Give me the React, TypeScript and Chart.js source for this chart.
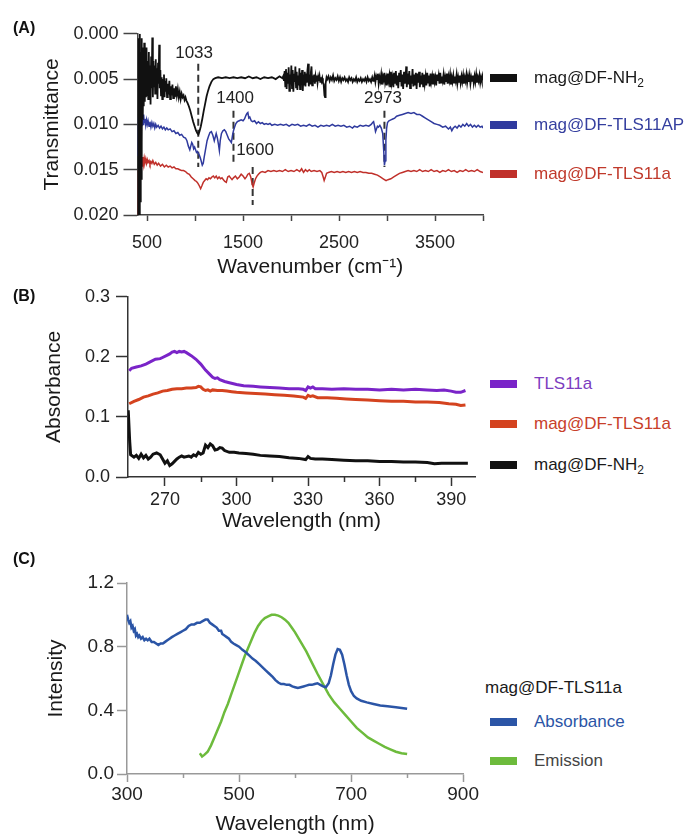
import React, { useEffect, useRef } from "react";
import { Chart, registerables } from "chart.js";
Chart.register(...registerables);

const FONT = "'Liberation Sans', Arial, Helvetica, sans-serif";

// ---------- Panel A: FTIR ----------
const ftirXTicks = [500, 1000, 1500, 2000, 2500, 3000, 3500, 4000];
const ftirXLabeled = [500, 1500, 2500, 3500];
const ftirYTicks = [0, 0.005, 0.01, 0.015, 0.02];

const ftirNH2: [number, number][] = [
  [405, 0.02], [410, 0.0005], [414, 0.0195], [418, 0.001], [422, 0.02], [426, 0.0], [430, 0.0185], [434, 0.002], [438, 0.016], [442, 0.0005],
  [446, 0.012], [450, 0.0015], [455, 0.0095], [460, 0.003], [465, 0.008], [470, 0.001], [476, 0.0075], [482, 0.0025], [488, 0.007], [494, 0.0015],
  [500, 0.0068], [506, 0.003], [512, 0.0072], [518, 0.002], [524, 0.0065], [530, 0.0035], [536, 0.0078], [542, 0.0025], [548, 0.006], [554, 0.0004],
  [560, 0.007], [566, 0.003], [572, 0.0058], [578, 0.0035], [584, 0.0066], [590, 0.0028], [596, 0.006], [602, 0.0038], [608, 0.0072], [614, 0.0032],
  [620, 0.0055], [626, 0.0012], [632, 0.006], [638, 0.004], [645, 0.0068], [652, 0.0048], [658, 0.0072], [664, 0.005], [670, 0.0066], [676, 0.0045],
  [682, 0.007], [688, 0.0052], [694, 0.0064], [700, 0.0049], [708, 0.007], [716, 0.0055], [724, 0.0067], [732, 0.0052], [740, 0.0072], [748, 0.0058],
  [756, 0.0068], [764, 0.0056], [772, 0.0071], [780, 0.006], [790, 0.007], [800, 0.0058], [810, 0.0068], [820, 0.0061], [830, 0.007], [840, 0.0064],
  [850, 0.0072], [860, 0.0066], [870, 0.007], [880, 0.0068], [890, 0.0073], [900, 0.007], [910, 0.0074], [920, 0.0076], [935, 0.008], [950, 0.0085],
  [965, 0.0091], [980, 0.0097], [995, 0.0102], [1010, 0.0107], [1025, 0.011], [1035, 0.0111], [1045, 0.0108], [1060, 0.0102], [1075, 0.0094], [1090, 0.0085],
  [1105, 0.0077], [1120, 0.0069], [1135, 0.0063], [1150, 0.0058], [1170, 0.0053], [1190, 0.005], [1210, 0.0049], [1240, 0.0048], [1280, 0.0049], [1320, 0.0048],
  [1360, 0.0049], [1400, 0.0048], [1440, 0.0049], [1480, 0.0048], [1520, 0.0049], [1560, 0.0047], [1600, 0.0049], [1640, 0.0048], [1680, 0.005], [1720, 0.0048],
  [1760, 0.0049], [1800, 0.0048], [1840, 0.005], [1880, 0.0047], [1910, 0.0049],
  [1918, 0.0047], [1926, 0.0052], [1933, 0.0041], [1940, 0.0058], [1947, 0.0039], [1954, 0.0061], [1961, 0.0043], [1968, 0.0055], [1975, 0.0037], [1982, 0.0063],
  [1989, 0.0045], [1996, 0.0056], [2003, 0.0035], [2010, 0.006], [2017, 0.004], [2024, 0.0064], [2031, 0.0044], [2038, 0.0053], [2045, 0.0036], [2052, 0.0059],
  [2059, 0.0042], [2066, 0.0062], [2073, 0.0046], [2080, 0.0057], [2087, 0.0038], [2094, 0.0061], [2101, 0.0043], [2108, 0.0055], [2115, 0.004], [2122, 0.0063],
  [2129, 0.0045], [2136, 0.0056], [2143, 0.0042], [2150, 0.0058], [2157, 0.0044], [2164, 0.0054], [2171, 0.004], [2178, 0.0033], [2185, 0.0058], [2192, 0.0045],
  [2199, 0.0055], [2206, 0.0043], [2213, 0.0036], [2220, 0.0057], [2227, 0.0046], [2234, 0.0053], [2241, 0.0045], [2248, 0.0055], [2255, 0.0047], [2262, 0.0052],
  [2269, 0.0046], [2276, 0.0054], [2283, 0.0048], [2290, 0.0052], [2297, 0.0047], [2304, 0.0053], [2311, 0.0048], [2318, 0.0052], [2325, 0.0049], [2332, 0.0054],
  [2340, 0.0056], [2348, 0.0068], [2354, 0.007], [2360, 0.0055], [2370, 0.0048],
  [2378, 0.005], [2390, 0.0047], [2402, 0.0052], [2414, 0.0048], [2426, 0.0051], [2438, 0.0046], [2450, 0.0052], [2462, 0.0049], [2474, 0.0051], [2486, 0.0047],
  [2498, 0.0052], [2510, 0.0048], [2522, 0.0053], [2534, 0.0049], [2546, 0.0051], [2558, 0.0048], [2570, 0.0052], [2582, 0.005], [2594, 0.0053], [2606, 0.0048],
  [2618, 0.0051], [2630, 0.0049], [2642, 0.0053], [2654, 0.005], [2666, 0.0052], [2678, 0.0048], [2690, 0.0053], [2702, 0.005], [2714, 0.0052], [2726, 0.0049],
  [2738, 0.0053], [2750, 0.005], [2762, 0.0052], [2774, 0.0049], [2786, 0.0053], [2798, 0.0048], [2810, 0.0052], [2822, 0.005], [2834, 0.0053], [2846, 0.0048],
  [2856, 0.0052], [2862, 0.0051], [2871, 0.0046], [2879, 0.0053], [2888, 0.0047], [2896, 0.005], [2905, 0.0044], [2913, 0.0055], [2922, 0.0048], [2930, 0.0052],
  [2939, 0.0045], [2947, 0.0056], [2956, 0.0047], [2964, 0.0051], [2973, 0.0043], [2981, 0.0054], [2990, 0.0049], [2998, 0.0057], [3007, 0.0044], [3015, 0.0052],
  [3024, 0.0046], [3032, 0.0058], [3041, 0.0042], [3049, 0.0054], [3058, 0.0048], [3066, 0.0059], [3075, 0.0043], [3083, 0.0055], [3092, 0.0041], [3100, 0.0057],
  [3109, 0.0046], [3117, 0.006], [3126, 0.0043], [3134, 0.0053], [3143, 0.004], [3151, 0.0058], [3160, 0.0045], [3168, 0.0061], [3177, 0.0042], [3185, 0.0055],
  [3194, 0.0047], [3200, 0.0036], [3206, 0.0059], [3215, 0.0044], [3223, 0.0056], [3232, 0.0041], [3240, 0.006], [3249, 0.0046], [3257, 0.0055], [3266, 0.0039],
  [3274, 0.0058], [3283, 0.0045], [3291, 0.0057], [3300, 0.0043], [3308, 0.0061], [3317, 0.0044], [3325, 0.0054], [3334, 0.0042], [3342, 0.0059], [3351, 0.0046],
  [3359, 0.0056], [3368, 0.0043], [3376, 0.0058], [3385, 0.0045], [3393, 0.0055], [3402, 0.0047], [3410, 0.0057], [3419, 0.0043], [3427, 0.0054], [3436, 0.0046],
  [3444, 0.0058], [3453, 0.0044], [3461, 0.0053], [3470, 0.0047], [3478, 0.0056], [3487, 0.0044], [3495, 0.0053], [3504, 0.0048], [3512, 0.0057], [3521, 0.0045],
  [3529, 0.0052], [3538, 0.0046], [3546, 0.0055], [3555, 0.0043], [3563, 0.0054], [3572, 0.0047], [3580, 0.0052], [3589, 0.0045], [3597, 0.0056], [3606, 0.0048],
  [3614, 0.0053], [3623, 0.0044], [3631, 0.0055], [3640, 0.0047], [3648, 0.0052], [3657, 0.0045], [3665, 0.0056], [3674, 0.0048], [3682, 0.0053], [3691, 0.0046],
  [3699, 0.0054], [3708, 0.0047], [3716, 0.0052], [3725, 0.0045], [3733, 0.0055], [3742, 0.0048], [3750, 0.0053], [3759, 0.0046], [3767, 0.0054], [3776, 0.0047],
  [3784, 0.0053], [3793, 0.0046], [3801, 0.0055], [3810, 0.0048], [3818, 0.0052], [3827, 0.0045], [3835, 0.0054], [3844, 0.0047], [3852, 0.0053], [3861, 0.0046],
  [3869, 0.0055], [3878, 0.0048], [3886, 0.0052], [3895, 0.0046], [3903, 0.0054], [3912, 0.0047], [3920, 0.0053], [3929, 0.0045], [3937, 0.0054], [3946, 0.0048],
  [3954, 0.0052], [3963, 0.0046], [3971, 0.0054], [3980, 0.0048], [3988, 0.0052], [3996, 0.0047], [4000, 0.005],
];

const ftirTLS11AP: [number, number][] = [
  [405, 0.0135], [410, 0.0092], [415, 0.0125], [420, 0.0083], [425, 0.011], [430, 0.0095], [435, 0.0108], [440, 0.0088], [446, 0.0102], [452, 0.0092],
  [458, 0.01], [464, 0.0089], [470, 0.0098], [478, 0.0094], [486, 0.0101], [494, 0.0095], [502, 0.01], [510, 0.0096], [520, 0.0102], [530, 0.0097],
  [540, 0.0103], [550, 0.0098], [560, 0.0102], [570, 0.0099], [580, 0.0104], [590, 0.01], [600, 0.0103], [615, 0.0101], [630, 0.0104], [645, 0.0102],
  [660, 0.0105], [675, 0.0103], [690, 0.0106], [705, 0.0104], [720, 0.0106], [740, 0.0105], [760, 0.0108], [780, 0.0107], [800, 0.011], [820, 0.0109],
  [840, 0.0112], [860, 0.0111], [880, 0.0114], [900, 0.0115], [915, 0.0118], [930, 0.0124], [945, 0.0128], [955, 0.0124], [965, 0.012], [975, 0.0122],
  [985, 0.0127], [995, 0.0125], [1005, 0.0128], [1015, 0.0131], [1025, 0.013], [1035, 0.0132], [1045, 0.0134], [1055, 0.0137], [1065, 0.0141], [1075, 0.0145],
  [1085, 0.0143], [1095, 0.0136], [1105, 0.013], [1115, 0.0124], [1125, 0.0118], [1140, 0.0113], [1155, 0.0109], [1170, 0.0108], [1185, 0.0112], [1200, 0.0118],
  [1210, 0.0114], [1220, 0.011], [1232, 0.0115], [1245, 0.0123], [1253, 0.0129], [1262, 0.0118], [1275, 0.011], [1290, 0.0107], [1305, 0.0106], [1320, 0.0108],
  [1335, 0.0112], [1350, 0.0116], [1365, 0.0118], [1378, 0.012], [1390, 0.0112], [1400, 0.0107], [1412, 0.0103], [1425, 0.0099], [1440, 0.0097], [1460, 0.0096],
  [1480, 0.0095], [1500, 0.0096], [1515, 0.0094], [1530, 0.009], [1540, 0.0088], [1550, 0.0087], [1560, 0.0093], [1570, 0.0092], [1585, 0.0096], [1600, 0.0097],
  [1620, 0.0096], [1640, 0.0099], [1660, 0.0097], [1680, 0.0099], [1700, 0.0098], [1720, 0.01], [1740, 0.0099], [1760, 0.01], [1780, 0.0099], [1800, 0.0101],
  [1830, 0.01], [1860, 0.0101], [1890, 0.01], [1920, 0.0101], [1950, 0.01], [1980, 0.0102], [2010, 0.01], [2040, 0.0101], [2070, 0.01], [2100, 0.0102],
  [2130, 0.0101], [2160, 0.0102], [2190, 0.01], [2220, 0.0102], [2250, 0.0101], [2280, 0.0103], [2310, 0.0101], [2340, 0.0102], [2370, 0.0101], [2400, 0.0102],
  [2430, 0.01], [2460, 0.0102], [2490, 0.0101], [2520, 0.0102], [2550, 0.0101], [2580, 0.0103], [2610, 0.0102], [2640, 0.0104], [2660, 0.0102], [2690, 0.0103],
  [2720, 0.0101], [2750, 0.0102], [2780, 0.0101], [2810, 0.0102], [2835, 0.01], [2850, 0.0098], [2860, 0.0097], [2870, 0.0102], [2880, 0.0108], [2890, 0.0105],
  [2900, 0.0102], [2910, 0.0103], [2925, 0.0101], [2940, 0.0104], [2955, 0.011], [2965, 0.0128], [2973, 0.0145], [2980, 0.014], [2988, 0.0118], [2996, 0.0104],
  [3005, 0.0098], [3020, 0.0096], [3040, 0.0095], [3060, 0.0094], [3080, 0.0093], [3100, 0.0091], [3130, 0.009], [3160, 0.0089], [3190, 0.0088], [3220, 0.0087],
  [3250, 0.0088], [3280, 0.0087], [3310, 0.0089], [3340, 0.0089], [3370, 0.0091], [3400, 0.0093], [3430, 0.0095], [3460, 0.0097], [3490, 0.0099], [3520, 0.01],
  [3550, 0.0101], [3580, 0.0103], [3610, 0.0102], [3640, 0.0105], [3660, 0.0103], [3675, 0.0107], [3690, 0.0104], [3710, 0.0102], [3730, 0.0104], [3750, 0.0101],
  [3770, 0.0103], [3790, 0.01], [3810, 0.0102], [3830, 0.0099], [3850, 0.0102], [3870, 0.01], [3890, 0.0103], [3910, 0.0101], [3930, 0.0103], [3950, 0.0101],
  [3970, 0.0103], [3990, 0.0102], [4000, 0.0104],
];

const ftirTLS11a: [number, number][] = [
  [405, 0.02], [410, 0.015], [415, 0.0185], [420, 0.0142], [425, 0.017], [430, 0.014], [436, 0.0155], [442, 0.0137], [448, 0.0146], [455, 0.0136],
  [462, 0.0144], [470, 0.0137], [478, 0.0142], [486, 0.0138], [494, 0.0143], [502, 0.0139], [510, 0.0142], [520, 0.014], [530, 0.0144], [540, 0.0141],
  [550, 0.0143], [560, 0.014], [575, 0.0144], [590, 0.0142], [605, 0.0145], [620, 0.0143], [640, 0.0146], [660, 0.0144], [680, 0.0147], [700, 0.0145],
  [720, 0.0147], [740, 0.0146], [760, 0.0148], [780, 0.0147], [800, 0.0149], [820, 0.0149], [840, 0.015], [860, 0.0151], [880, 0.0151], [900, 0.0152],
  [920, 0.0154], [940, 0.0155], [960, 0.0158], [980, 0.016], [1000, 0.0162], [1015, 0.0163], [1030, 0.0165], [1045, 0.0168], [1058, 0.0171], [1070, 0.0168],
  [1085, 0.0164], [1100, 0.0162], [1115, 0.016], [1130, 0.0161], [1145, 0.0159], [1160, 0.016], [1175, 0.0158], [1190, 0.0157], [1205, 0.0159], [1220, 0.0157],
  [1235, 0.016], [1250, 0.0158], [1265, 0.016], [1280, 0.0159], [1295, 0.0161], [1310, 0.0163], [1325, 0.0164], [1340, 0.0158], [1355, 0.0157], [1370, 0.0159],
  [1385, 0.0161], [1400, 0.0159], [1420, 0.0157], [1440, 0.016], [1460, 0.0158], [1480, 0.0155], [1500, 0.0157], [1520, 0.016], [1535, 0.0158], [1550, 0.0155],
  [1565, 0.0154], [1580, 0.0158], [1595, 0.0166], [1605, 0.0169], [1615, 0.0165], [1630, 0.016], [1645, 0.0157], [1660, 0.0155], [1680, 0.0153], [1700, 0.0152],
  [1730, 0.0153], [1760, 0.0151], [1790, 0.0152], [1820, 0.0151], [1850, 0.0152], [1880, 0.0151], [1910, 0.0152], [1940, 0.015], [1970, 0.0152], [2000, 0.0151],
  [2030, 0.0152], [2060, 0.015], [2090, 0.0152], [2110, 0.0149], [2130, 0.0153], [2150, 0.015], [2170, 0.0152], [2190, 0.015], [2210, 0.0152], [2240, 0.0151],
  [2270, 0.0152], [2300, 0.0151], [2320, 0.0153], [2335, 0.0158], [2345, 0.0162], [2355, 0.0159], [2370, 0.0154], [2390, 0.0153], [2420, 0.0152], [2450, 0.0153],
  [2480, 0.0152], [2510, 0.0153], [2540, 0.0152], [2570, 0.0153], [2600, 0.0152], [2630, 0.0153], [2660, 0.0152], [2690, 0.0153], [2720, 0.0152], [2750, 0.0153],
  [2780, 0.0153], [2810, 0.0154], [2840, 0.0154], [2870, 0.0155], [2900, 0.0156], [2930, 0.0158], [2960, 0.016], [2990, 0.0162], [3010, 0.0161], [3040, 0.016],
  [3070, 0.0158], [3100, 0.0156], [3130, 0.0154], [3160, 0.0153], [3190, 0.0152], [3220, 0.0151], [3250, 0.0152], [3280, 0.0151], [3310, 0.0152], [3340, 0.015],
  [3370, 0.0152], [3400, 0.0151], [3430, 0.0152], [3460, 0.015], [3490, 0.0152], [3520, 0.0151], [3550, 0.0153], [3580, 0.0151], [3610, 0.0152], [3640, 0.015],
  [3670, 0.0152], [3700, 0.0151], [3730, 0.0153], [3760, 0.0151], [3790, 0.0152], [3820, 0.015], [3850, 0.0152], [3880, 0.0151], [3910, 0.0152], [3940, 0.015],
  [3970, 0.0152], [4000, 0.0153],
];

const peakWn = [1033, 1400, 1600, 2973];
const peakLineTop = [0.0033, 0.0085, 0.0147, 0.0085];
const peakLineBottom = [0.0147, 0.0143, 0.0189, 0.0147];
const peakLabelWn = [990, 1417, 1625, 2958];
const peakLabelT = [0.0021, 0.0071, 0.0129, 0.0071];

// ---------- Panel B: UV-Vis ----------
const uvXTicks = [270, 285, 300, 315, 330, 345, 360, 375, 390];
const uvXMajor = [270, 300, 330, 360, 390];
const uvYTicks = [0, 0.1, 0.2, 0.3];

const uvTLS11a: [number, number][] = [
  [255, 0.177], [256, 0.181], [258, 0.183], [260, 0.185], [262, 0.188], [264, 0.192], [266, 0.196], [268, 0.197], [269, 0.199], [271, 0.203],
  [272, 0.205], [273, 0.208], [274, 0.209], [275, 0.207], [276, 0.209], [277, 0.208], [278, 0.209], [279, 0.207], [281, 0.202], [283, 0.196],
  [285, 0.188], [287, 0.178], [289, 0.17], [290, 0.166], [291, 0.164], [292, 0.165], [293, 0.162], [295, 0.159], [297, 0.157], [300, 0.154],
  [303, 0.152], [307, 0.151], [310, 0.15], [314, 0.149], [318, 0.148], [322, 0.147], [326, 0.147], [328, 0.146], [329, 0.144], [330, 0.15],
  [331, 0.148], [332, 0.15], [333, 0.147], [336, 0.147], [340, 0.146], [345, 0.147], [350, 0.146], [355, 0.146], [360, 0.145], [365, 0.146],
  [370, 0.145], [375, 0.146], [380, 0.145], [384, 0.144], [387, 0.145], [390, 0.143], [392, 0.141], [394, 0.141], [396, 0.144],
];

const uvMagTLS11a: [number, number][] = [
  [255, 0.122], [257, 0.126], [259, 0.129], [261, 0.133], [263, 0.135], [265, 0.138], [267, 0.14], [269, 0.143], [271, 0.144], [273, 0.146],
  [275, 0.147], [277, 0.147], [279, 0.148], [281, 0.148], [283, 0.149], [284, 0.151], [285, 0.15], [286, 0.146], [287, 0.144], [288, 0.145],
  [289, 0.143], [290, 0.145], [292, 0.144], [294, 0.144], [296, 0.143], [298, 0.142], [300, 0.141], [304, 0.14], [308, 0.139], [312, 0.138],
  [316, 0.137], [320, 0.136], [324, 0.135], [328, 0.133], [329, 0.131], [330, 0.136], [331, 0.134], [332, 0.135], [334, 0.132], [338, 0.132],
  [342, 0.131], [346, 0.13], [350, 0.129], [355, 0.128], [360, 0.127], [365, 0.126], [370, 0.126], [375, 0.125], [380, 0.125], [385, 0.124],
  [389, 0.122], [392, 0.121], [394, 0.119], [396, 0.12],
];

const uvMagNH2: [number, number][] = [
  [254.6, 0.111], [255.2, 0.06], [255.6, 0.037], [257, 0.033], [258, 0.036], [259, 0.031], [260, 0.038], [261, 0.032], [262, 0.036], [263, 0.03],
  [264, 0.033], [265, 0.038], [266.5, 0.04], [268, 0.037], [269, 0.03], [270, 0.023], [271, 0.027], [272, 0.019], [273, 0.022], [274, 0.026],
  [275, 0.03], [276, 0.033], [277, 0.035], [278, 0.033], [280, 0.035], [281, 0.033], [282, 0.037], [283, 0.035], [284, 0.041], [285, 0.038],
  [286, 0.04], [287, 0.053], [288, 0.049], [289, 0.055], [290, 0.052], [291, 0.045], [292, 0.046], [293, 0.049], [294, 0.048], [295, 0.044],
  [297, 0.041], [299, 0.041], [301, 0.04], [304, 0.039], [307, 0.038], [310, 0.036], [314, 0.035], [318, 0.034], [322, 0.032], [326, 0.031],
  [329, 0.029], [330, 0.034], [331, 0.031], [333, 0.03], [336, 0.03], [340, 0.029], [345, 0.028], [350, 0.027], [355, 0.027], [360, 0.026],
  [365, 0.026], [370, 0.025], [375, 0.025], [380, 0.024], [383, 0.022], [386, 0.023], [390, 0.023], [394, 0.023], [397, 0.023],
];

// ---------- Panel C: absorbance / emission ----------
const specXTicks = [300, 400, 500, 600, 700, 800, 900];
const specXMajor = [300, 500, 700, 900];
const specYTicks = [0, 0.4, 0.8, 1.2];

const specAbsorbance: [number, number][] = [
  [300, 1.0], [302, 0.97], [304, 0.95], [306, 0.96], [308, 0.92], [310, 0.93], [312, 0.9], [314, 0.91], [316, 0.87], [318, 0.88],
  [320, 0.86], [322, 0.87], [325, 0.85], [328, 0.86], [331, 0.84], [334, 0.85], [337, 0.84], [340, 0.85], [344, 0.83], [348, 0.83],
  [352, 0.82], [356, 0.81], [360, 0.82], [364, 0.82], [368, 0.83], [372, 0.84], [376, 0.85], [380, 0.86], [385, 0.87], [390, 0.88],
  [395, 0.89], [400, 0.9], [405, 0.91], [410, 0.93], [415, 0.94], [420, 0.94], [425, 0.95], [430, 0.95], [435, 0.96], [440, 0.97],
  [444, 0.97], [448, 0.95], [452, 0.94], [456, 0.93], [460, 0.92], [464, 0.9], [468, 0.9], [470, 0.88], [474, 0.87], [478, 0.86],
  [482, 0.85], [486, 0.83], [490, 0.82], [495, 0.81], [500, 0.8], [506, 0.78], [512, 0.765], [518, 0.745], [524, 0.725], [530, 0.71],
  [536, 0.69], [542, 0.67], [548, 0.65], [554, 0.63], [560, 0.61], [565, 0.59], [570, 0.575], [575, 0.565], [580, 0.565], [585, 0.56],
  [590, 0.56], [595, 0.55], [600, 0.545], [605, 0.54], [610, 0.545], [615, 0.55], [620, 0.555], [625, 0.56], [630, 0.56], [635, 0.565],
  [640, 0.57], [645, 0.56], [650, 0.55], [655, 0.545], [660, 0.57], [664, 0.62], [668, 0.69], [672, 0.75], [676, 0.785], [680, 0.78],
  [684, 0.75], [688, 0.69], [692, 0.62], [696, 0.56], [700, 0.52], [705, 0.49], [710, 0.475], [718, 0.46], [728, 0.45], [740, 0.44],
  [752, 0.43], [765, 0.425], [780, 0.42], [790, 0.415], [800, 0.41],
];

const specEmission: [number, number][] = [
  [430, 0.13], [434, 0.11], [438, 0.12], [444, 0.14], [450, 0.18], [456, 0.23], [462, 0.28], [468, 0.33], [474, 0.39], [480, 0.44],
  [486, 0.5], [492, 0.56], [498, 0.62], [504, 0.68], [510, 0.74], [516, 0.79], [522, 0.84], [528, 0.89], [534, 0.93], [540, 0.96],
  [546, 0.98], [552, 0.99], [558, 1.0], [564, 1.0], [570, 0.995], [576, 0.985], [582, 0.97], [588, 0.95], [594, 0.92], [600, 0.89],
  [610, 0.83], [620, 0.77], [630, 0.7], [640, 0.63], [650, 0.565], [660, 0.5], [670, 0.45], [680, 0.41], [690, 0.37], [700, 0.33],
  [710, 0.29], [720, 0.26], [730, 0.23], [740, 0.21], [750, 0.19], [760, 0.17], [770, 0.155], [780, 0.14], [790, 0.13], [800, 0.125],
];

// ---------- helpers ----------
const pts = (a: [number, number][]) => a.map(([x, y]) => ({ x, y }));

type AxisOpts = {
  min: number; max: number; ticks: number[]; labeled: number[]; fmt: (v: number) => string;
  size: number; tickLen: number; pad: number; fontSize: number; color: string; labelColor: string;
  title: string; titleSize: number; titlePad: any; reverse?: boolean; titleLH?: number; width?: number; hideMinor?: boolean;
};

function axis(o: AxisOpts, horizontal: boolean) {
  return {
    type: "linear",
    min: o.min,
    max: o.max,
    reverse: !!o.reverse,
    afterBuildTicks: (s: any) => { s.ticks = o.ticks.map((v) => ({ value: v })); },
    afterFit: (s: any) => { if (horizontal) s.height = o.size; else s.width = o.size; },
    ticks: {
      autoSkip: false, maxRotation: 0, minRotation: 0, padding: o.pad, color: o.labelColor,
      font: { family: FONT, size: o.fontSize },
      callback: (v: number) => (o.labeled.includes(v) ? o.fmt(v) : ""),
    },
    grid: {
      drawOnChartArea: false, drawTicks: true, tickLength: o.tickLen, color: o.color,
      tickWidth: o.width ?? 1.5,
      tickColor: (ctx: any) => (o.hideMinor && ctx.tick && !o.labeled.includes(ctx.tick.value) ? "rgba(0,0,0,0)" : o.color),
    },
    border: { display: true, color: o.color, width: o.width ?? 1.5 },
    title: {
      display: true, text: o.title, color: "#1a1a1a", padding: o.titlePad,
      font: { family: FONT, size: o.titleSize, lineHeight: o.titleLH ?? 1.2 },
    },
  };
}

function minorTickPlugin(minor: number[], len: number, color: string, width: number) {
  return {
    id: "minorTicks",
    afterDraw(chart: any) {
      const xs = chart.scales.x;
      const ctx = chart.ctx;
      ctx.save();
      ctx.strokeStyle = color;
      ctx.lineWidth = width;
      for (const v of minor) {
        const px = Math.round(xs.getPixelForValue(v)) + 0.5;
        ctx.beginPath();
        ctx.moveTo(px, xs.top);
        ctx.lineTo(px, xs.top + len);
        ctx.stroke();
      }
      ctx.restore();
    },
  };
}

const peakLabelPlugin = {
  id: "peakLabels",
  afterDatasetsDraw(chart: any) {
    const { ctx, scales } = chart;
    ctx.save();
    ctx.font = `17px ${FONT}`;
    ctx.fillStyle = "#222";
    ctx.textAlign = "center";
    ctx.textBaseline = "middle";
    peakWn.forEach((wn, i) => {
      ctx.fillText(String(wn), scales.x.getPixelForValue(peakLabelWn[i]), scales.y.getPixelForValue(peakLabelT[i]));
    });
    ctx.restore();
  },
};

function useChart(ref: React.RefObject<HTMLCanvasElement>, make: () => any) {
  useEffect(() => {
    if (!ref.current) return;
    const c = new Chart(ref.current, make());
    return () => c.destroy();
  }, []);
}

const lineDs = (label: string, data: [number, number][], color: string, width: number) => ({
  label, data: pts(data), borderColor: color, backgroundColor: color, borderWidth: width,
  pointRadius: 0, tension: 0, fill: false,
});

function PanelA() {
  const ref = useRef<HTMLCanvasElement>(null);
  useChart(ref, () => ({
    type: "line",
    data: {
      datasets: [
        lineDs("mag@DF-NH2", ftirNH2, "#111111", 1.8),
        lineDs("mag@DF-TLS11AP", ftirTLS11AP, "#2f3a9e", 1.5),
        lineDs("mag@DF-TLS11a", ftirTLS11a, "#c0302a", 1.5),
        ...peakWn.map((wn, i) => ({
          label: "peak" + wn,
          data: [{ x: wn, y: peakLineTop[i] }, { x: wn, y: peakLineBottom[i] }],
          borderColor: "#333", borderWidth: 2, borderDash: [7, 4], pointRadius: 0, fill: false,
        })),
      ],
    },
    options: {
      animation: false, responsive: false,
      layout: { padding: { top: 15, right: 17, left: 0, bottom: 0 } },
      plugins: { legend: { display: false }, tooltip: { enabled: false } },
      scales: {
        x: axis({ min: 400, max: 4000, ticks: ftirXTicks, labeled: ftirXLabeled, fmt: (v) => String(v), size: 65,
          tickLen: 6, pad: 11, fontSize: 18, color: "#444", labelColor: "#222", title: "Wavenumber (cm\u207B\u00B9)",
          titleSize: 21, titlePad: { top: 0, bottom: 0 } }, true),
        y: axis({ min: 0, max: 0.02, reverse: true, ticks: ftirYTicks, labeled: ftirYTicks, fmt: (v) => v.toFixed(3), size: 137.5,
          tickLen: 14, pad: 5, fontSize: 18, color: "#444", labelColor: "#222", title: "Transmittance",
          titleSize: 21, titlePad: { top: 40, bottom: 0 } }, false),
      },
    },
    plugins: [peakLabelPlugin],
  }));
  return <canvas ref={ref} width={500} height={262} style={{ position: "absolute", left: 0, top: 18 }} />;
}

function PanelB() {
  const ref = useRef<HTMLCanvasElement>(null);
  const minor = uvXTicks.filter((v) => !uvXMajor.includes(v));
  useChart(ref, () => ({
    type: "line",
    data: {
      datasets: [
        lineDs("mag@DF-NH2", uvMagNH2, "#111111", 3),
        lineDs("mag@DF-TLS11a", uvMagTLS11a, "#d4431f", 3),
        lineDs("TLS11a", uvTLS11a, "#7a24c8", 3),
      ],
    },
    options: {
      animation: false, responsive: false,
      layout: { padding: { top: 15, right: 15, left: 0, bottom: 0 } },
      plugins: { legend: { display: false }, tooltip: { enabled: false } },
      scales: {
        x: axis({ min: 254.5, max: 400, ticks: uvXTicks, labeled: uvXMajor, fmt: (v) => String(v), size: 58,
          tickLen: 9, pad: 3, fontSize: 18, color: "#333", labelColor: "#222", title: "Wavelength (nm)",
          titleSize: 21, titlePad: { top: 0, bottom: 1 }, hideMinor: true }, true),
        y: axis({ min: 0, max: 0.3, ticks: uvYTicks, labeled: uvYTicks, fmt: (v) => v.toFixed(1), size: 128,
          tickLen: 12, pad: 6, fontSize: 18, color: "#333", labelColor: "#222", title: "Absorbance",
          titleSize: 21, titlePad: { top: 42, bottom: 0 } }, false),
      },
    },
    plugins: [minorTickPlugin(minor, 5, "#333", 1.5)],
  }));
  return <canvas ref={ref} width={490} height={255} style={{ position: "absolute", left: 0, top: 280 }} />;
}

function PanelC() {
  const ref = useRef<HTMLCanvasElement>(null);
  const minor = specXTicks.filter((v) => !specXMajor.includes(v));
  useChart(ref, () => ({
    type: "line",
    data: {
      datasets: [
        lineDs("Absorbance", specAbsorbance, "#2b55a6", 2.5),
        lineDs("Emission", specEmission, "#6dbb3c", 2.5),
      ],
    },
    options: {
      animation: false, responsive: false,
      layout: { padding: { top: 18, right: 14, left: 0, bottom: 0 } },
      plugins: { legend: { display: false }, tooltip: { enabled: false } },
      scales: {
        x: axis({ min: 300, max: 900, ticks: specXTicks, labeled: specXMajor, fmt: (v) => String(v), size: 61,
          tickLen: 8, pad: 1, fontSize: 19, color: "#999", labelColor: "#222", title: "Wavelength (nm)",
          titleSize: 21, titlePad: { top: 0, bottom: 0 }, titleLH: 1.0, hideMinor: true }, true),
        y: axis({ min: 0, max: 1.2, ticks: specYTicks, labeled: specYTicks, fmt: (v) => v.toFixed(1), size: 127,
          tickLen: 10, pad: 3, fontSize: 19, color: "#999", labelColor: "#222", title: "Intensity",
          titleSize: 21, titlePad: { top: 44, bottom: 0 } }, false),
      },
    },
    plugins: [minorTickPlugin(minor, 4, "#999", 1.5)],
  }));
  return <canvas ref={ref} width={480} height={270} style={{ position: "absolute", left: 0, top: 565 }} />;
}

function LegendItem({ y, color, textColor, children }: { y: number; color: string; textColor: string; children: React.ReactNode }) {
  return (
    <>
      <div style={{ position: "absolute", left: 490, top: y - 4, width: 27, height: 8, background: color }} />
      <div style={{ position: "absolute", left: 534, top: y - 11, height: 22, lineHeight: "22px", fontSize: 17, color: textColor, fontFamily: FONT, whiteSpace: "nowrap" }}>
        {children}
      </div>
    </>
  );
}

const panelLabel = (text: string, y: number) => (
  <div style={{ position: "absolute", left: 13, top: y - 10, lineHeight: "20px", fontSize: 16, fontWeight: 700, fontFamily: FONT, color: "#111" }}>{text}</div>
);

export default function App() {
  return (
    <div style={{ position: "absolute", left: 0, top: 0, width: 689, height: 835, background: "#fff", overflow: "hidden", fontFamily: FONT }}>
      <PanelA />
      <PanelB />
      <PanelC />
      {panelLabel("(A)", 28)}
      {panelLabel("(B)", 296)}
      {panelLabel("(C)", 559)}

      <LegendItem y={78} color="#111111" textColor="#1a1a1a">mag@DF-NH<sub style={{ fontSize: 12 }}>2</sub></LegendItem>
      <LegendItem y={125} color="#2f3a9e" textColor="#353f9f">mag@DF-TLS11AP</LegendItem>
      <LegendItem y={174} color="#c0302a" textColor="#c0392b">mag@DF-TLS11a</LegendItem>

      <LegendItem y={384} color="#7a24c8" textColor="#7d3cc0">TLS11a</LegendItem>
      <LegendItem y={424} color="#d4431f" textColor="#c8402a">mag@DF-TLS11a</LegendItem>
      <LegendItem y={465} color="#111111" textColor="#1a1a1a">mag@DF-NH<sub style={{ fontSize: 12 }}>2</sub></LegendItem>

      <div style={{ position: "absolute", left: 485, top: 677, lineHeight: "22px", fontSize: 17, color: "#1a1a1a", fontFamily: FONT }}>mag@DF-TLS11a</div>
      <LegendItem y={722} color="#2b55a6" textColor="#2b55a6">Absorbance</LegendItem>
      <LegendItem y={761} color="#6dbb3c" textColor="#444">Emission</LegendItem>
    </div>
  );
}
